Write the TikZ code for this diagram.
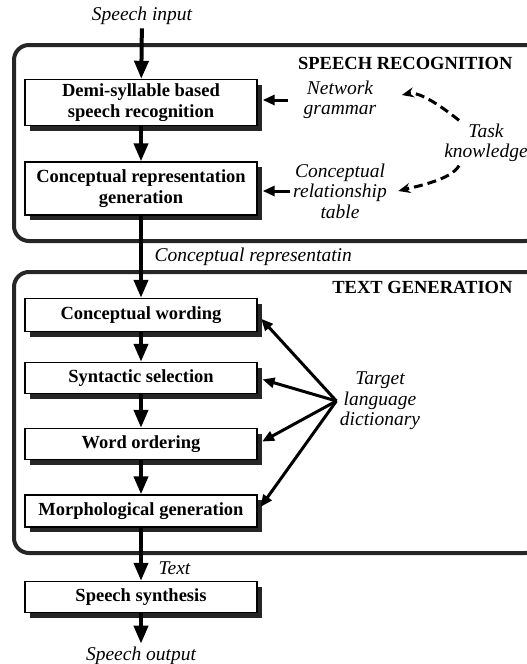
\documentclass[tikz,border=0pt]{standalone}
\usepackage{fontspec}
\setmainfont{Liberation Serif}
\usetikzlibrary{arrows.meta,shadows}

\tikzset{
  stage/.style={draw, line width=1.4pt, fill=white, minimum width=232pt, align=center, inner sep=2pt,
    font=\fontsize{18.5}{20.5}\selectfont\bfseries,
    drop shadow={shadow xshift=5pt, shadow yshift=-5pt, fill=black!85, opacity=1}},
  source/.style={align=center, font=\fontsize{19.5}{20.5}\selectfont\itshape},
  title/.style={font=\fontsize{18.5}{20.5}\selectfont\bfseries},
  module/.style={draw=black!85, line width=4pt, rounded corners=15pt},
  flow/.style={line width=4pt, -{Triangle[length=18pt,width=14pt]}},
  feed/.style={line width=3pt, shorten >=5pt, -{Triangle[length=12pt,width=10pt]}},
  know/.style={line width=3pt, dash pattern=on 9pt off 5pt, -{Stealth[length=12pt,width=10pt]}}
}

\begin{document}
\begin{tikzpicture}[x=1pt,y=-1pt]
  \useasboundingbox (0,0) rectangle (527,664);

  % the two modules
  \draw[module] (14,45) rectangle (540,241);
  \draw[module] (14,272) rectangle (540,553);
  \node[title, anchor=east] (srtitle) at (516,63) {SPEECH RECOGNITION};
  \node[title, anchor=east] (tgtitle) at (516,287) {TEXT GENERATION};

  % processing stages
  \node[source] (input) at (142,16) {Speech input};
  \node[stage, minimum height=46pt] (demi) at (141,102.5) {Demi-syllable based\\speech recognition};
  \node[stage, minimum height=53pt] (crg) at (141,188.5) {Conceptual representation\\generation};
  \node[stage, minimum height=33pt] (cw) at (141,315) {Conceptual wording};
  \node[stage, minimum height=31pt] (ss) at (141,378) {Syntactic selection};
  \node[stage, minimum height=31pt] (wo) at (141,444) {Word ordering};
  \node[stage, minimum height=32pt] (mg) at (141,511) {Morphological generation};
  \node[stage, minimum height=31pt] (synth) at (141,597) {Speech synthesis};
  \node[source] (output) at (141,656) {Speech output};

  % knowledge sources
  \node[source] (net) at (340,100) {Network\\grammar};
  \node[source] (crt) at (340,191) {Conceptual\\relationship\\table};
  \node[source] (task) at (486,143) {Task\\knowledge};
  \node[source] (dict) at (380,401) {Target\\language\\dictionary};

  % labels on the main flow
  \node[source, anchor=west] (crlabel) at (151,257) {Conceptual representatin};
  \node[source, anchor=west] (textlabel) at (155,568) {Text};

  % main flow
  \draw[flow] (input) -- (demi);
  \draw[flow] (demi) -- (crg);
  \draw[flow] (crg) -- (cw);
  \draw[flow] (cw) -- (ss);
  \draw[flow] (ss) -- (wo);
  \draw[flow] (wo) -- (mg);
  \draw[flow] (mg) -- (synth);
  \draw[flow] (synth) -- (output);

  % knowledge feeds
  \draw[feed] ([xshift=-12pt]net.west) -- (net.west -| demi.east);
  \draw[feed] (crt.west) -- (crt.west -| crg.east);
  \draw[know] (task.140) .. controls +(-15,-12) and +(18,-4) .. ([shift={(22pt,5pt)}]net.east);
  \draw[know] (task.220) .. controls +(-8,14) and +(20,-5) .. ([xshift=8pt]crt.east);
  \draw[feed] (dict.west) -- (cw.east);
  \draw[feed] (dict.west) -- (ss.east);
  \draw[feed] (dict.west) -- (wo.east);
  \draw[feed] (dict.west) -- (mg.east);
\end{tikzpicture}
\end{document}
